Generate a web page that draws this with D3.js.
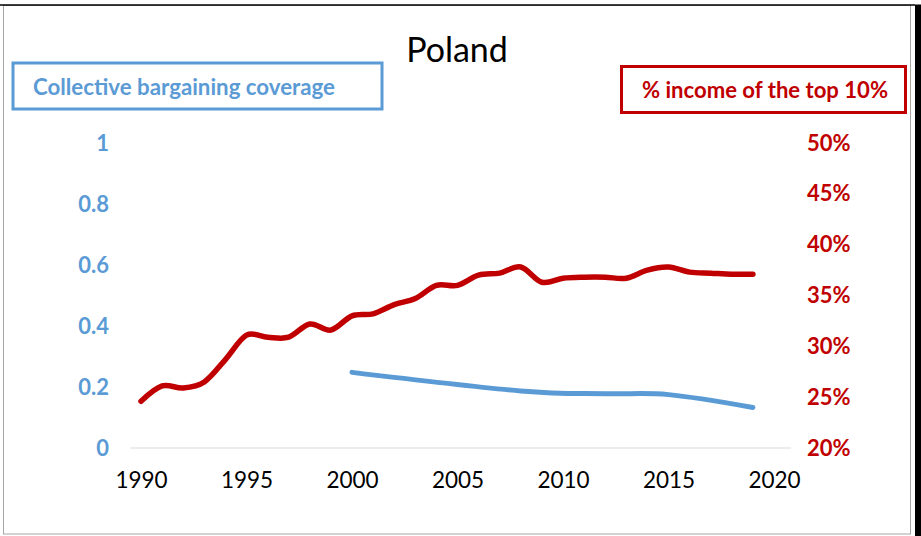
<!DOCTYPE html>
<html>
<head>
<meta charset="utf-8">
<script src="https://cdn.jsdelivr.net/npm/d3@7"></script>
<style>
  html, body { margin: 0; padding: 0; background: #fff; }
  svg { display: block; }
  text { font-family: Lato, "Open Sans", sans-serif; }
</style>
</head>
<body>
<svg id="chart" width="921" height="536"></svg>
<script>
// ---- data ----
const title = "Poland";
const leftLegend = "Collective bargaining coverage";
const rightLegend = "% income of the top 10%";

const incomeYears = [1990,1991,1992,1993,1994,1995,1996,1997,1998,1999,2000,2001,2002,2003,2004,2005,2006,2007,2008,2009,2010,2011,2012,2013,2014,2015,2016,2017,2018,2019];
const incomeTop10 = [24.6,26.1,25.9,26.5,28.7,31.1,30.9,30.9,32.2,31.6,33.0,33.2,34.1,34.7,36.0,36.0,37.0,37.2,37.8,36.3,36.7,36.8,36.8,36.7,37.5,37.8,37.3,37.2,37.1,37.1];

const coverageYears = [2000,2008,2012,2015,2019];
const coverage = [0.248,0.187,0.178,0.175,0.133];

const xTicks = [1990,1995,2000,2005,2010,2015,2020];
const leftTicks = [0,0.2,0.4,0.6,0.8,1];
const leftTickLabels = ["0","0.2","0.4","0.6","0.8","1"];
const rightTicks = [20,25,30,35,40,45,50];
const rightTickLabels = ["20%","25%","30%","35%","40%","45%","50%"];

// ---- colours ----
const RED = "#C00000";
const BLUE = "#5B9BD5";

const svg = d3.select("#chart");

// frame
svg.append("rect").attr("x",0).attr("y",0).attr("width",921).attr("height",536).attr("fill","#fff");
svg.append("rect").attr("x",3.5).attr("y",5.5).attr("width",907).attr("height",528.5)
  .attr("fill","#fff").attr("stroke","#A6A6A6").attr("stroke-width",1);
svg.append("line").attr("x1",0).attr("x2",915).attr("y1",5).attr("y2",5)
  .attr("stroke","#000").attr("stroke-width",1.5);
svg.append("rect").attr("x",915).attr("y",4.5).attr("width",6).attr("height",532).attr("fill","#000");

// scales
const x = d3.scaleLinear().domain([1990,2020]).range([141,774]);
const yL = d3.scaleLinear().domain([0,1]).range([448,143]);
const yR = d3.scaleLinear().domain([20,50]).range([448,143]);

// baseline
svg.append("line").attr("x1",x(1989.5)).attr("x2",x(2020.8))
  .attr("y1",yL(0)).attr("y2",yL(0)).attr("stroke","#D9D9D9").attr("stroke-width",1);

// x axis
const gx = svg.append("g").attr("transform",`translate(0,${yL(0)})`)
  .call(d3.axisBottom(x).tickValues(xTicks).tickFormat(d3.format("d")).tickSize(0).tickPadding(24));
gx.select(".domain").remove();
gx.selectAll("text").attr("font-size",22.5).attr("fill","#000")
  .style("font-family","Lato, sans-serif");

// left axis
const gl = svg.append("g").attr("transform",`translate(109,0)`)
  .call(d3.axisLeft(yL).tickValues(leftTicks).tickFormat((d,i)=>leftTickLabels[i]).tickSize(0).tickPadding(0));
gl.select(".domain").remove();
gl.selectAll("text").attr("font-size",22).attr("font-weight","bold").attr("fill",BLUE)
  .style("font-family","Lato, sans-serif");

// right axis
const gr = svg.append("g").attr("transform",`translate(807,0)`)
  .call(d3.axisRight(yR).tickValues(rightTicks).tickFormat((d,i)=>rightTickLabels[i]).tickSize(0).tickPadding(0));
gr.select(".domain").remove();
gr.selectAll("text").attr("font-size",22).attr("font-weight","bold").attr("fill",RED)
  .style("font-family","Lato, sans-serif");

// lines
const lineR = d3.line().x((d,i)=>x(incomeYears[i])).y(d=>yR(d)).curve(d3.curveCardinal.tension(0));
svg.append("path").datum(incomeTop10).attr("d",lineR)
  .attr("fill","none").attr("stroke",RED).attr("stroke-width",5.5)
  .attr("stroke-linecap","round").attr("stroke-linejoin","round");

const lineB = d3.line().x((d,i)=>x(coverageYears[i])).y(d=>yL(d)).curve(d3.curveCardinal.tension(0));
svg.append("path").datum(coverage).attr("d",lineB)
  .attr("fill","none").attr("stroke",BLUE).attr("stroke-width",5)
  .attr("stroke-linecap","round").attr("stroke-linejoin","round");

// title
svg.append("text").attr("x",457).attr("y",62).attr("text-anchor","middle")
  .attr("font-size",34).attr("fill","#000").text(title);

// legend boxes
svg.append("rect").attr("x",13).attr("y",63).attr("width",369).attr("height",46)
  .attr("fill","#fff").attr("stroke",BLUE).attr("stroke-width",3);
svg.append("text").attr("x",33).attr("y",95).attr("font-size",22).attr("font-weight","bold")
  .attr("textLength",302).attr("lengthAdjust","spacingAndGlyphs")
  .attr("fill",BLUE).text(leftLegend);

svg.append("rect").attr("x",621.5).attr("y",66.5).attr("width",284).attr("height",46)
  .attr("fill","#fff").attr("stroke",RED).attr("stroke-width",3);
svg.append("text").attr("x",642).attr("y",98).attr("font-size",22).attr("font-weight","bold")
  .attr("textLength",246).attr("lengthAdjust","spacingAndGlyphs")
  .attr("fill",RED).text(rightLegend);
</script>
</body>
</html>
